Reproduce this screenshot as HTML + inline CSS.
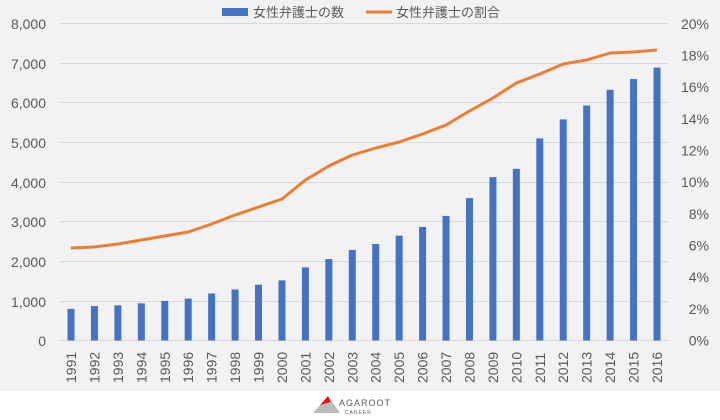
<!DOCTYPE html>
<html><head><meta charset="utf-8"><style>
body{margin:0;width:720px;height:420px;background:#fff;overflow:hidden}
svg{display:block}
text{font-family:"Liberation Sans","Noto Sans CJK JP",sans-serif;fill:#595959}
</style></head><body>
<svg width="720" height="420" xmlns="http://www.w3.org/2000/svg">
<rect x="0" y="0" width="720" height="391" fill="#f2f2f2"/>
<g stroke="#d9d9d9" stroke-width="1">
<line x1="59" x2="669" y1="23.5" y2="23.5"/>
<line x1="59" x2="669" y1="63.5" y2="63.5"/>
<line x1="59" x2="669" y1="102.5" y2="102.5"/>
<line x1="59" x2="669" y1="142.5" y2="142.5"/>
<line x1="59" x2="669" y1="182.5" y2="182.5"/>
<line x1="59" x2="669" y1="221.5" y2="221.5"/>
<line x1="59" x2="669" y1="261.5" y2="261.5"/>
<line x1="59" x2="669" y1="301.5" y2="301.5"/>
<line x1="59" x2="669" y1="340.5" y2="340.5"/>
</g>
<g font-size="14" text-anchor="end">
<text x="46" y="29">8,000</text><text x="46" y="69">7,000</text><text x="46" y="108">6,000</text>
<text x="46" y="148">5,000</text><text x="46" y="188">4,000</text><text x="46" y="227">3,000</text>
<text x="46" y="267">2,000</text><text x="46" y="307">1,000</text><text x="46" y="346">0</text>
</g>
<g id="rl" font-size="14" text-anchor="end"></g>
<g id="bars" fill="#4472c4"></g>
<polyline id="ln" fill="none" stroke="#ed7d31" stroke-width="3" stroke-linejoin="round"/>
<g id="xl" font-size="14"></g>
<rect x="222" y="8" width="26" height="8" fill="#4472c4"/>
<text x="253" y="17" font-size="13">女性弁護士の数</text>
<line x1="366" x2="392" y1="12" y2="12" stroke="#ed7d31" stroke-width="3"/>
<text x="396" y="17" font-size="13">女性弁護士の割合</text>
<polygon points="313,413 328,396 340,413" fill="#bbb"/>
<polygon points="320,405 328,396 331,402" fill="#e8141c"/>
<text x="339" y="406" font-size="9" fill="#555" letter-spacing="1">AGAROOT</text>
<text x="345" y="414" font-size="5" fill="#666" letter-spacing="1">CAREER</text>
</svg>
<script>
var b=[800,870,890,940,1000,1060,1190,1290,1410,1520,1850,2060,2290,2440,2650,2870,3150,3600,4130,4340,5110,5590,5940,6340,6610,6900];
var ly=[248,247,244,240,236,232,224,215,207,199,180,166,155,148,142,134,125,111,98,83,74,64,60,53,52,50];
var g=document.getElementById('bars'),xl=document.getElementById('xl'),pts=[];
var ns='http://www.w3.org/2000/svg';
for(var i=0;i<26;i++){var cx=71+i*23.44;var h=b[i]*0.03955;
var r=document.createElementNS(ns,'rect');r.setAttribute('x',cx-3.5);r.setAttribute('y',340.5-h);r.setAttribute('width',7);r.setAttribute('height',h);g.appendChild(r);
pts.push(cx+','+ly[i]);
var t=document.createElementNS(ns,'text');t.setAttribute('transform','translate('+(cx+5)+',383) rotate(-90)');t.textContent=1991+i;xl.appendChild(t);}
document.getElementById('ln').setAttribute('points',pts.join(' '));
var rl=document.getElementById('rl');
for(var k=0;k<=10;k++){var t=document.createElementNS(ns,'text');t.setAttribute('x',709);t.setAttribute('y',23.3+k*31.68+5.5);t.textContent=(20-2*k)+'%';rl.appendChild(t);}
</script>
</body></html>
